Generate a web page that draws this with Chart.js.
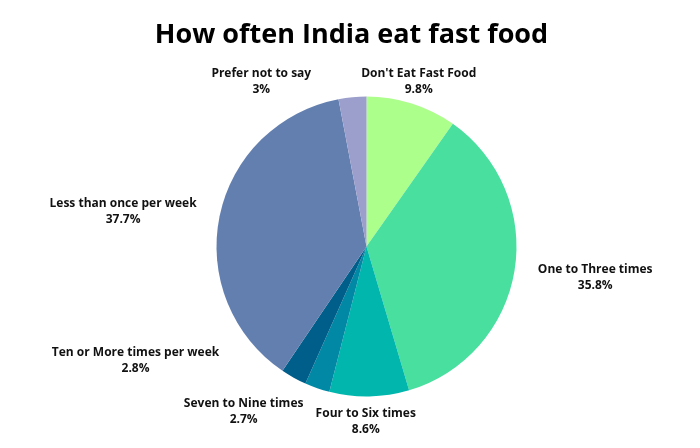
<!DOCTYPE html>
<html>
<head>
<meta charset="utf-8">
<script src="https://cdn.jsdelivr.net/npm/chart.js@4.4.1/dist/chart.umd.min.js"></script>
<style>
  html, body { margin: 0; padding: 0; background: #ffffff; }
  #wrap { width: 700px; height: 448px; position: relative; }
</style>
</head>
<body>
<div id="wrap"><canvas id="c" width="700" height="448"></canvas></div>
<script>
const titleText = "How often India eat fast food";
const categories = [
  "Don't Eat Fast Food",
  "One to Three times",
  "Four to Six times",
  "Seven to Nine times",
  "Ten or More times per week",
  "Less than once per week",
  "Prefer not to say"
];
const percentValues = [9.8, 35.8, 8.6, 2.7, 2.8, 37.7, 3];
const sliceColors = ["#adff8c", "#48df9f", "#00b6ad", "#0088a5", "#005e8a", "#627faf", "#9c9fcc"];

// label placement tweaks (pixels) relative to the default outside anchor
const labelNudge = [
  [0, 0], [58, 3], [-4, 2.5], [-66, 2], [-147, -37.5], [-74, 0], [-89, 7]
];

const outsideLabels = {
  id: 'outsideLabels',
  afterDraw(chart) {
    const ctx = chart.ctx;
    const meta = chart.getDatasetMeta(0);
    ctx.save();
    ctx.font = "bold 12px 'Open Sans'";
    ctx.fillStyle = "#111111";
    ctx.textAlign = "center";
    ctx.textBaseline = "middle";
    meta.data.forEach((arc, i) => {
      const p = arc.getProps(['x', 'y', 'startAngle', 'endAngle', 'outerRadius'], true);
      const mid = (p.startAngle + p.endAngle) / 2;
      const r = p.outerRadius + 23;
      const cx = p.x + Math.cos(mid) * r + labelNudge[i][0];
      const cy = p.y + Math.sin(mid) * r + labelNudge[i][1];
      ctx.fillText(categories[i], cx, cy - 8);
      ctx.fillText(percentValues[i] + "%", cx, cy + 8);
    });
    // title
    ctx.font = "bold 27px 'Open Sans'";
    ctx.fillStyle = "#000000";
    ctx.textBaseline = "alphabetic";
    ctx.fillText(titleText, 351.5, 43);
    ctx.restore();
  }
};

new Chart(document.getElementById('c'), {
  type: 'pie',
  data: {
    labels: categories,
    datasets: [{
      data: percentValues,
      backgroundColor: sliceColors,
      borderWidth: 0,
      hoverOffset: 0,
      offset: 0
    }]
  },
  options: {
    responsive: false,
    animation: false,
    devicePixelRatio: 1,
    layout: { padding: { left: 216.5, right: 183.5, top: 96.5, bottom: 51.5 } },
    plugins: {
      legend: { display: false },
      tooltip: { enabled: false },
      title: { display: false }
    }
  },
  plugins: [outsideLabels]
});
</script>
</body>
</html>
